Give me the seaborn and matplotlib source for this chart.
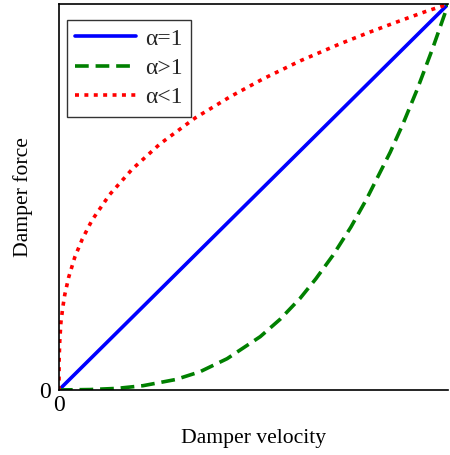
import numpy as np
import pandas as pd
import seaborn as sns
import matplotlib
matplotlib.use("Agg")
import matplotlib.pyplot as plt

# Values (normalised velocity / force)
lin_v = [0.0, 0.25, 0.5, 0.75, 1.0]
lin_f = [0.0, 0.25, 0.5, 0.75, 1.0]

gt_v = [0.0, 0.08, 0.149, 0.216, 0.3, 0.362, 0.432, 0.517, 0.568, 0.62, 0.66,
        0.704, 0.75, 0.79, 0.851, 0.884, 0.92, 0.96, 1.0]
gt_f = [0.0, 0.001, 0.004, 0.011, 0.027, 0.047, 0.081, 0.138, 0.183, 0.238, 0.288,
        0.349, 0.422, 0.494, 0.616, 0.69, 0.778, 0.885, 1.0]

lt_v = [0.0, 0.0005, 0.002, 0.005, 0.01, 0.015, 0.025, 0.041, 0.06, 0.085, 0.13,
        0.188, 0.26, 0.35, 0.44, 0.524, 0.62, 0.722, 0.8, 0.869, 0.94, 1.0]
lt_f = [0.0, 0.08, 0.125, 0.175, 0.215, 0.247, 0.292, 0.345, 0.391, 0.44, 0.506,
        0.572, 0.638, 0.705, 0.76, 0.806, 0.853, 0.897, 0.928, 0.954, 0.98, 1.0]

labels = ["\u03b1=1", "\u03b1>1", "\u03b1<1"]
tick_labels = ["0"]

sns.set_theme(style="white")
plt.rcParams["font.family"] = ["Liberation Serif", "DejaVu Serif"]

fig = plt.figure(figsize=(4.5, 4.55), dpi=100)
ax = fig.add_axes([0.131, 0.143, 0.865, 0.848])

sns.lineplot(x=lin_v, y=lin_f, ax=ax, color="#0000ff", lw=2.6, label=labels[0],
             estimator=None, sort=False)
sns.lineplot(x=gt_v, y=gt_f, ax=ax, color="#008000", lw=2.6, label=labels[1],
             estimator=None, sort=False, dashes=False)
sns.lineplot(x=lt_v, y=lt_f, ax=ax, color="#ff0000", lw=2.6, label=labels[2],
             estimator=None, sort=False, dashes=False)
ax.lines[1].set_dashes([3.8, 1.9])
ax.lines[2].set_dashes([1.1, 1.5])

ax.set_xlim(0, 1)
ax.set_ylim(0, 1)
ax.set_xticks([0])
ax.set_xticklabels(tick_labels)
ax.set_yticks([0])
ax.set_yticklabels(tick_labels)
ax.tick_params(axis="x", length=0, labelsize=17, colors="black", pad=4)
ax.tick_params(axis="y", length=0, labelsize=17, colors="black", pad=6)

for s in ["left", "bottom", "top"]:
    ax.spines[s].set_visible(True)
    ax.spines[s].set_color("black")
    ax.spines[s].set_linewidth(1.2)
ax.spines["right"].set_visible(False)

ax.set_xlabel("Damper velocity", fontsize=15.6, color="black", labelpad=9)
ax.set_ylabel("Damper force", fontsize=15.6, color="black", labelpad=4)

leg = ax.legend(loc="upper left", bbox_to_anchor=(0.02, 0.959), fontsize=17,
                frameon=True, fancybox=False, handlelength=2.6, handletextpad=0.35,
                labelspacing=0.33, borderpad=0.35, borderaxespad=0)
leg.get_frame().set_edgecolor("black")
leg.get_frame().set_linewidth(1.0)

fig.savefig("out.png", dpi=100)
